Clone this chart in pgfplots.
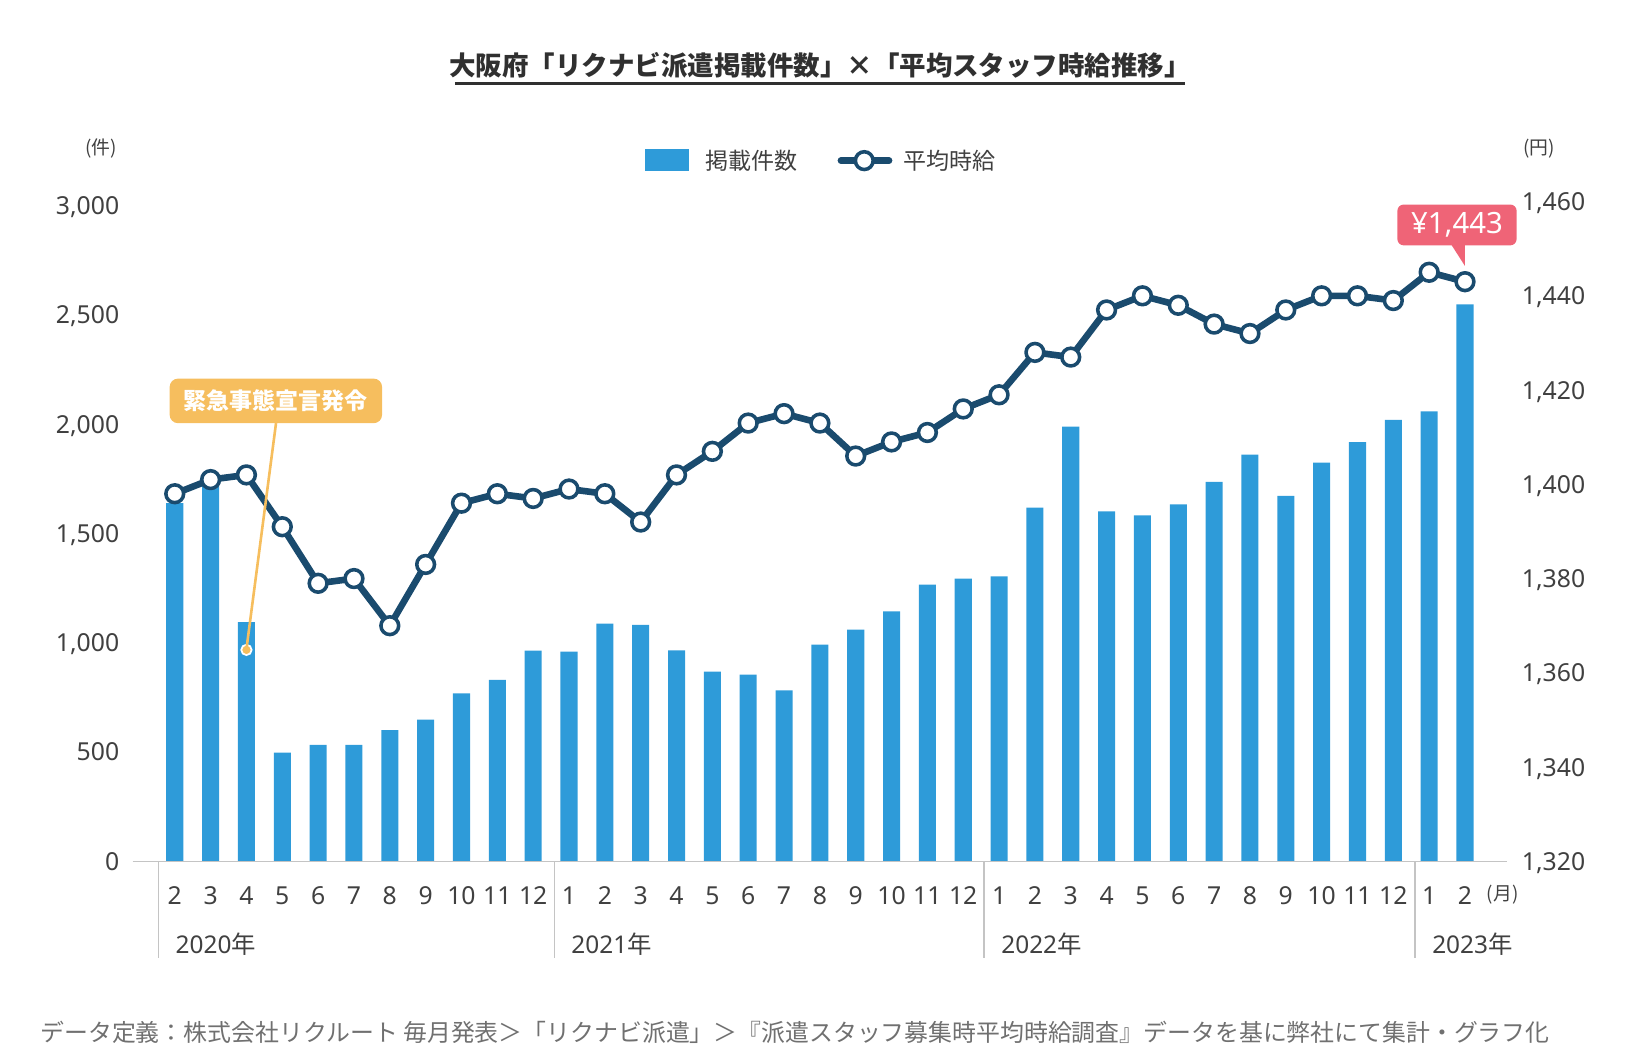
\documentclass[border=0pt]{standalone}
\usepackage{pgfplots}
\pgfplotsset{compat=1.18}
\usepackage{fontspec}
\setmainfont{Noto Sans CJK JP}
\newfontfamily\numfont{Noto Sans}
\definecolor{barblue}{HTML}{2E9BD9}
\definecolor{navy}{HTML}{1A4B6E}
\definecolor{labgray}{HTML}{404040}
\definecolor{titlegray}{HTML}{303030}
\definecolor{footgray}{HTML}{707070}
\definecolor{axisgray}{HTML}{C4C4C4}
\definecolor{annorange}{HTML}{F6BE5E}
\definecolor{annred}{HTML}{EF6477}
\newcommand\fsz[1]{\fontsize{#1pt}{#1pt}\selectfont}
\begin{document}
\begin{tikzpicture}
\path[use as bounding box] (0,0) rectangle (470.4pt,304.5pt);
\begin{axis}[
  at={(38.04pt,57.45pt)}, anchor=south west,
  scale only axis, width=394.08pt, height=189.225pt,
  xmin=-1.176, xmax=37.16, ymin=0, ymax=3017.5,
  axis line style={draw=none}, major tick style={draw=none},
  clip=false, ybar, bar width=4.89pt,
  xtick={0,...,36},
  xticklabels={2,3,4,5,6,7,8,9,10,11,12,1,2,3,4,5,6,7,8,9,10,11,12,1,2,3,4,5,6,7,8,9,10,11,12,1,2},
  xticklabel style={font=\numfont\fsz{7.1}, text=labgray, anchor=base, inner sep=0pt, yshift=-8.0pt},
  ytick={0,500,1000,1500,2000,2500,3000},
  yticklabels={0,500,{1,000},{1,500},{2,000},{2,500},{3,000}},
  yticklabel style={font=\numfont\fsz{7.1}, text=labgray, anchor=east, inner sep=0pt, text depth=0pt, xshift=-3.66pt},
]
\addplot[fill=barblue, draw=none] coordinates {
(0,1638) (1,1727) (2,1094) (3,497) (4,533) (5,533) (6,600) (7,648) (8,768) (9,830) (10,964)
(11,959) (12,1087) (13,1081) (14,965) (15,868) (16,854) (17,782) (18,991) (19,1060) (20,1143) (21,1266) (22,1293)
(23,1303) (24,1618) (25,1988) (26,1601) (27,1582) (28,1633) (29,1735) (30,1860) (31,1672) (32,1824) (33,1917) (34,2019)
(35,2058) (36,2547)
};
\draw[axisgray, line width=0.45pt] (axis cs:-1.176,0) -- (axis cs:37.16,0);
\fill[annorange, draw=white, line width=0.5pt] (axis cs:2,967) circle (1.49pt);
\end{axis}
\begin{axis}[
  at={(38.04pt,57.45pt)}, anchor=south west,
  scale only axis, width=394.08pt, height=189.225pt,
  xmin=-1.176, xmax=37.16, ymin=1320, ymax=1460,
  axis line style={draw=none}, major tick style={draw=none},
  clip=false, xtick=\empty,
  ytick={1320,1340,1360,1380,1400,1420,1440,1460},
  yticklabels={{1,320},{1,340},{1,360},{1,380},{1,400},{1,420},{1,440},{1,460}},
  yticklabel pos=right,
  yticklabel style={font=\numfont\fsz{7.1}, text=labgray, anchor=west, inner sep=0pt, text depth=0pt, xshift=4.2pt},
]
\addplot[navy, line width=1.9pt, line join=round, mark=*, mark size=2.55pt,
  mark options={fill=white, draw=navy, line width=1.02pt, solid}] coordinates {
(0,1398) (1,1401) (2,1402) (3,1391) (4,1379) (5,1380) (6,1370) (7,1383) (8,1396) (9,1398) (10,1397)
(11,1399) (12,1398) (13,1392) (14,1402) (15,1407) (16,1413) (17,1415) (18,1413) (19,1406) (20,1409) (21,1411) (22,1416)
(23,1419) (24,1428) (25,1427) (26,1437) (27,1440) (28,1438) (29,1434) (30,1432) (31,1437) (32,1440) (33,1440) (34,1439)
(35,1445) (36,1443)
};
\end{axis}
\begin{scope}[yshift=304.5pt, x=0.3pt, y=-0.3pt]
% title
\node[font=\bfseries\fsz{7.6}, text=titlegray] at (784,62) {大阪府「リクナビ派遣掲載件数」×「平均スタッフ時給推移」};
\draw[titlegray, line width=0.75pt] (435,80) -- (1133,80);
% legend
\fill[barblue] (616.2,142.7) rectangle (659,163.9);
\node[anchor=west, inner sep=0pt, font=\fsz{6.6}, text=labgray] at (674,153.6) {掲載件数};
\draw[navy, line width=1.9pt, line cap=round] (804,153.6) -- (850,153.6);
\draw[navy, fill=white, line width=1.02pt] (826.3,153.6) circle (2.55pt);
\node[anchor=west, inner sep=0pt, font=\fsz{6.6}, text=labgray] at (862.8,153.6) {平均時給};
% unit labels
\node[font=\fsz{5.4}, text=labgray, inner sep=0pt] at (96.5,141.7) {(件)};
\node[anchor=west, font=\fsz{5.4}, text=labgray, inner sep=0pt] at (1456,141.7) {(円)};
\node[anchor=west, font=\fsz{5.4}, text=labgray, inner sep=0pt] at (1421,855) {(月)};
% separators and years
\foreach \sx in {151.5,530,941,1352.8} {\draw[axisgray, line width=0.45pt] (\sx,823.5) -- (\sx,916.2);}
\node[anchor=base west, font=\fsz{7.0}, text=labgray, inner sep=0pt] at (167.3,911.4) {{\numfont 2020}年};
\node[anchor=base west, font=\fsz{7.0}, text=labgray, inner sep=0pt] at (545.7,911.4) {{\numfont 2021}年};
\node[anchor=base west, font=\fsz{7.0}, text=labgray, inner sep=0pt] at (956.7,911.4) {{\numfont 2022}年};
\node[anchor=base west, font=\fsz{7.0}, text=labgray, inner sep=0pt] at (1368.7,911.4) {{\numfont 2023}年};
% annotation
\draw[annorange, line width=0.75pt] (263.9,404.6) -- (235.6,620.7);
\fill[annorange, rounded corners=2.4pt] (162.2,362) rectangle (365.3,404.6);
\node[font=\bfseries\fsz{6.6}, text=white] at (263.7,383.3) {緊急事態宣言発令};
% callout
\fill[annred, rounded corners=1.8pt] (1336,195.6) rectangle (1450,234.6);
\fill[annred] (1387.6,234) -- (1400.6,234) -- (1400.6,254.3) -- cycle;
\node[font=\numfont\fsz{8.4}, text=white] at (1393,215) {¥1,443};
% footer
\node[anchor=west, inner sep=0pt, font=\fsz{6.85}, text=footgray] at (38,987) {データ定義：株式会社リクルート 毎月発表＞「リクナビ派遣」＞『派遣スタッフ募集時平均時給調査』データを基に弊社にて集計・グラフ化};
\end{scope}
\end{tikzpicture}
\end{document}
